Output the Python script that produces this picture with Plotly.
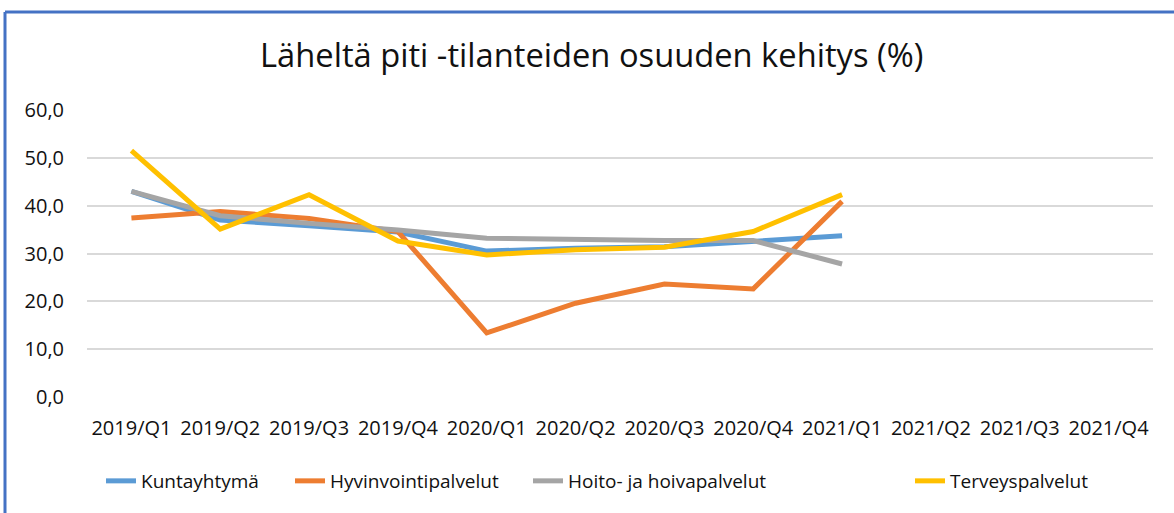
import plotly.graph_objects as go

categories = ["2019/Q1", "2019/Q2", "2019/Q3", "2019/Q4", "2020/Q1", "2020/Q2",
              "2020/Q3", "2020/Q4", "2021/Q1", "2021/Q2", "2021/Q3", "2021/Q4"]
kuntayhtyma = [43.0, 37.0, 35.8, 34.5, 30.5, 31.1, 31.4, 32.6, 33.7, None, None, None]
hyvinvointi = [37.4, 38.8, 37.3, 34.6, 13.4, 19.6, 23.6, 22.6, 40.9, None, None, None]
hoito = [43.0, 37.9, 36.3, 34.9, 33.2, 32.9, 32.7, 32.7, 27.8, None, None, None]
terveys = [51.5, 35.1, 42.3, 32.6, 29.7, 30.8, 31.3, 34.6, 42.3, None, None, None]

series = [
    ("Kuntayhtymä", kuntayhtyma, "#5B9BD5"),
    ("Hyvinvointipalvelut", hyvinvointi, "#ED7D31"),
    ("Hoito- ja hoivapalvelut", hoito, "#A5A5A5"),
    ("Terveyspalvelut", terveys, "#FFC000"),
]
legend_left_px = [109, 298, 536, 918]

FONT = "Open Sans"
W, H = 1174, 513
L, R, T, B = 87, 21, 110, 116
pw, ph = W - L - R, H - T - B


def px(x):
    return (x - L) / pw


def py(y):
    return (H - B - y) / ph


fig = go.Figure()
legend_layouts = {}
for i, (name, vals, col) in enumerate(series):
    lname = "legend" if i == 0 else f"legend{i + 1}"
    fig.add_trace(go.Scatter(x=categories, y=vals, name=name, mode="lines",
                             line=dict(color=col, width=5), connectgaps=False,
                             legend=lname))
    legend_layouts[lname] = dict(
        orientation="h", x=px(legend_left_px[i] - 8), xanchor="left",
        y=py(481), yanchor="middle", font=dict(family=FONT, size=19, color="#111111"),
        bgcolor="rgba(0,0,0,0)", borderwidth=0)

fig.update_layout(
    width=W, height=H,
    margin=dict(l=L, r=R, t=T, b=B),
    paper_bgcolor="white", plot_bgcolor="white",
    separators=",.",
    font=dict(family=FONT, size=20, color="#111111"),
    title=dict(text="Läheltä piti -tilanteiden osuuden kehitys (%)",
               x=0.504, xanchor="center", y=1 - 56 / H, yanchor="middle",
               font=dict(family=FONT, size=32.7, color="#111111")),
    xaxis=dict(type="category", categoryorder="array", categoryarray=categories,
               showgrid=False, showline=False, zeroline=False, ticks="",
               tickfont=dict(size=20), ticklabelstandoff=17,
               range=[-0.5, 11.5]),
    yaxis=dict(range=[0, 60], dtick=10, tickformat=".1f", showgrid=True,
               gridcolor="#D9D9D9", gridwidth=1.5, zeroline=False, showline=False,
               ticks="", tickfont=dict(size=20), ticklabelstandoff=22,
               fixedrange=True),
    showlegend=True,
    shapes=[
        dict(type="line", xref="paper", yref="paper", x0=px(5), x1=px(W + 5),
             y0=py(12), y1=py(12), line=dict(color="#4472C4", width=3)),
        dict(type="line", xref="paper", yref="paper", x0=px(5), x1=px(5),
             y0=py(12), y1=py(H + 5), line=dict(color="#4472C4", width=3)),
    ],
)
fig.update_layout(**legend_layouts)

fig.write_html("out.html", config={"displayModeBar": False},
               post_script="document.body.style.margin='0';document.body.style.padding='0';")
